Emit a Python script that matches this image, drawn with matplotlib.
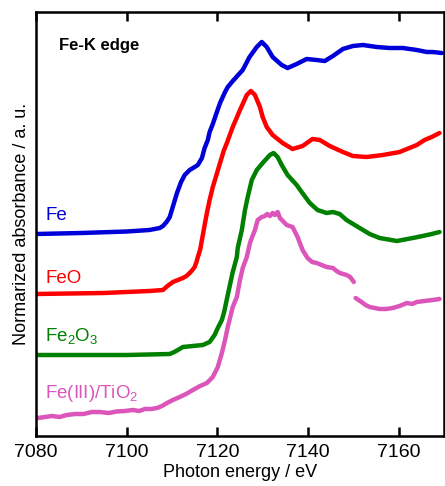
import numpy as np
import matplotlib

matplotlib.use("Agg")
import matplotlib.pyplot as plt

# spectra (energy in eV, normalized absorbance incl. offset)
fe_e = [7080, 7090, 7100, 7105, 7107.3, 7108.0, 7108.8, 7109.5, 7110.3, 7111.1,
        7112.0, 7112.8, 7113.9, 7115.0, 7115.7, 7116.6, 7117.2, 7117.9, 7118.3,
        7119.0, 7119.9, 7120.6, 7121.7, 7122.3, 7123.4, 7125.6, 7127.1, 7128.7,
        7129.8, 7130.9, 7132.2, 7134.2, 7135.5, 7137.5, 7139.7, 7141.9, 7143.7,
        7145.5, 7147.7, 7149.9, 7152.1, 7155.2, 7158.0, 7160.9, 7164.0, 7166.2,
        7167.5, 7169.5]
fe_a = [2.02, 2.03, 2.045, 2.06, 2.08, 2.10, 2.14, 2.19, 2.31, 2.43,
        2.54, 2.61, 2.66, 2.69, 2.71, 2.78, 2.88, 2.96, 3.04,
        3.12, 3.24, 3.33, 3.44, 3.49, 3.55, 3.66, 3.79, 3.89,
        3.94, 3.89, 3.79, 3.71, 3.68, 3.72, 3.77, 3.76, 3.75,
        3.80, 3.87, 3.90, 3.91, 3.89, 3.88, 3.88, 3.86, 3.84,
        3.84, 3.83]

feo_e = [7080, 7095, 7105, 7108.0, 7109.0, 7110.2, 7111.3, 7112.4, 7113.2, 7113.9,
         7114.5, 7115.0, 7115.4, 7115.7, 7116.2, 7116.6, 7117.2, 7117.7, 7118.3,
         7119.0, 7119.8, 7120.6, 7121.4, 7122.1, 7123.4, 7125.0, 7126.5, 7127.4,
         7128.3, 7129.4, 7130.0, 7130.9, 7132.2, 7134.4, 7136.6, 7138.8, 7141.0,
         7142.6, 7144.8, 7147.7, 7149.9, 7152.9, 7156.5, 7160.2, 7164.0, 7165.7,
         7167.3, 7169.0]
feo_a = [1.42, 1.43, 1.45, 1.46, 1.50, 1.54, 1.56, 1.58, 1.60, 1.63,
         1.66, 1.69, 1.74, 1.79, 1.86, 1.96, 2.11, 2.23, 2.36,
         2.49, 2.61, 2.73, 2.85, 2.93, 3.09, 3.26, 3.41, 3.45,
         3.41, 3.29, 3.19, 3.09, 3.01, 2.93, 2.87, 2.90, 2.97,
         2.96, 2.90, 2.84, 2.80, 2.79, 2.81, 2.84, 2.91, 2.96,
         2.99, 3.03]

fe2o3_e = [7080, 7100, 7109.5, 7110.5, 7111.3, 7112.4, 7114.6, 7116.8, 7118.3,
           7119.4, 7120.1, 7121.0, 7121.5, 7122.3, 7123.4, 7124.3, 7124.5,
           7125.4, 7126.1, 7126.7, 7127.6, 7128.7, 7130.0, 7131.6, 7132.4,
           7133.3, 7134.2, 7135.5, 7137.5, 7138.6, 7140.4, 7142.1, 7144.1,
           7145.5, 7147.0, 7148.5, 7151.4, 7153.6, 7155.8, 7159.6, 7163.1,
           7165.3, 7167.3, 7169.0]
fe2o3_a = [0.81, 0.81, 0.82, 0.84, 0.86, 0.89, 0.90, 0.91, 0.94,
           1.01, 1.08, 1.16, 1.24, 1.41, 1.64, 1.79, 1.88,
           2.06, 2.26, 2.39, 2.56, 2.66, 2.73, 2.81, 2.83,
           2.79, 2.71, 2.61, 2.51, 2.44, 2.33, 2.26, 2.23,
           2.24, 2.22, 2.16, 2.08, 2.02, 1.98, 1.95, 1.98,
           2.00, 2.02, 2.04]

tio2_e = [7080.4, 7082.0, 7083.5, 7085.2, 7086.8, 7088.6, 7090.5, 7092.3, 7094.1,
          7096.0, 7097.8, 7099.6, 7101.4, 7102.8, 7104.0, 7105.4, 7106.7, 7107.8,
          7108.9, 7110.2, 7111.7, 7113.1, 7114.6, 7116.2, 7117.7, 7119.0, 7120.1,
          7121.0, 7121.7, 7122.3, 7123.4, 7124.3, 7125.0, 7125.6, 7126.5, 7127.2,
          7127.6, 7128.3, 7128.9, 7129.8, 7130.5, 7131.0, 7131.6, 7132.2, 7132.7,
          7133.3, 7133.8, 7135.3, 7136.6, 7137.7, 7138.8, 7139.9, 7140.9, 7141.9,
          7143.0, 7144.1, 7145.5, 7146.3, 7147.0, 7148.5, 7149.3, 7150.1, np.nan,
          7150.5, 7151.8, 7152.7, 7153.6, 7155.8, 7157.2, 7158.7, 7160.2, 7161.8,
          7163.0, 7164.0, 7165.7, 7167.5, 7169.0]
tio2_a = [0.18, 0.19, 0.20, 0.19, 0.21, 0.22, 0.22, 0.24, 0.24,
          0.23, 0.245, 0.25, 0.26, 0.25, 0.27, 0.27, 0.28, 0.30,
          0.33, 0.36, 0.39, 0.42, 0.46, 0.50, 0.53, 0.59, 0.69,
          0.83, 0.96, 1.09, 1.29, 1.39, 1.56, 1.68, 1.79, 1.93,
          1.98, 2.06, 2.16, 2.19, 2.20, 2.22, 2.20, 2.23, 2.21,
          2.24, 2.18, 2.11, 2.09, 1.99, 1.86, 1.78, 1.74, 1.73,
          1.71, 1.69, 1.68, 1.65, 1.63, 1.61, 1.59, 1.54, np.nan,
          1.38, 1.34, 1.31, 1.29, 1.27, 1.27, 1.28, 1.30, 1.33,
          1.32, 1.34, 1.35, 1.36, 1.37]

names = ["Fe", "FeO", r"Fe$_2$O$_3$", r"Fe(III)/TiO$_2$"]
colors = ["#0000d8", "#ff0000", "#008000", "#db55bb"]
label_y = [2.21, 1.58, 1.00, 0.43]

plt.rcParams["font.family"] = ["Liberation Sans", "DejaVu Sans"]
plt.rcParams["mathtext.default"] = "regular"

fig = plt.figure(figsize=(4.45, 4.86), dpi=100)
ax = fig.add_axes([36 / 445, 50 / 486, 408 / 445, 424 / 486])

series = [(fe_e, fe_a), (feo_e, feo_a), (fe2o3_e, fe2o3_a), (tio2_e, tio2_a)]
for (e, a), name, c, ly in zip(series, names, colors, label_y):
    ax.plot(e, a, color=c, lw=3.2, solid_capstyle="round", solid_joinstyle="round")
    ax.text(7082, ly, name, color=c, fontsize=13.5, va="center", ha="left")

ax.text(7085, 3.91, "Fe-K edge", fontsize=12, fontweight="bold", va="center")

ax.set_xlim(7080, 7170)
ax.set_ylim(0, 4.24)
ax.set_xticks([7080, 7100, 7120, 7140, 7160])
ax.set_yticks([])
ax.tick_params(axis="x", direction="in", top=True, length=6.5, width=1.8,
               labelsize=14, pad=6)
for s in ax.spines.values():
    s.set_linewidth(1.8)

ax.set_xlabel("Photon energy / eV", fontsize=13, labelpad=2)
ax.set_ylabel("Normarized absorbance / a. u.", fontsize=13, labelpad=4)

fig.savefig("out.png", dpi=100)
